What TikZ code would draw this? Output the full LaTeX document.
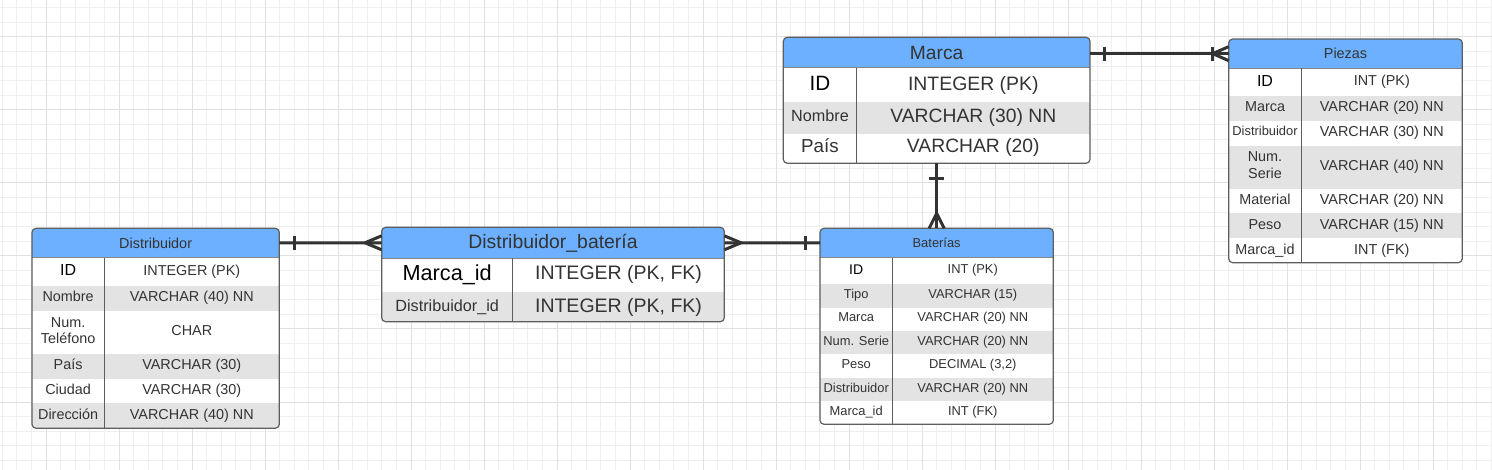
\documentclass[tikz,border=0pt]{standalone}
\usepackage{fontspec}
\setmainfont{Liberation Sans}
\usetikzlibrary{calc}
\definecolor{hdrblue}{RGB}{108,176,255}
\definecolor{rowgrey}{RGB}{227,227,227}
\definecolor{framecol}{RGB}{94,94,94}
\definecolor{txtcol}{RGB}{51,51,51}
\definecolor{conncol}{RGB}{51,51,51}
\definecolor{gridminor}{RGB}{239,239,239}
\definecolor{gridmajor}{RGB}{224,224,224}
\newcommand{\erfs}[2]{\fontsize{#1}{#2}\selectfont}
\tikzset{
  gminor/.style={draw=gridminor, line width=1pt},
  gmajor/.style={draw=gridmajor, line width=1pt},
  frame/.style={draw=framecol, line width=1.2pt, rounded corners=4pt, inner sep=0pt, outer sep=0pt},
  hdr/.style={inner sep=0pt, outer sep=0pt, text=txtcol, font=\erfs{#1}{#1}},
  cs/.style={inner sep=0pt, text=txtcol, font=\erfs{#1}{#1}, text height=\dimexpr #1pt*72/100\relax, text depth=0pt},
  ks/.style={cs=#1, text=black},
  ts/.style={inner sep=0pt, text=txtcol, align=center, font=\erfs{#1}{16.7}},
  hline/.style={draw=framecol!75, line width=1pt},
  dline/.style={draw=framecol, line width=1pt},
  conn/.style={draw=conncol, line width=3pt, line join=round},
}
\newcommand{\erbg}[6]{%
  \begin{scope}
    \clip[rounded corners=4pt] (#1,#2) rectangle (#3,#4);
    \fill[white] (#1,#2) rectangle (#3,#4);
    \fill[hdrblue] (#1,#2) rectangle (#3,#5);
    \foreach \ya/\yb in {#6} {\fill[rowgrey] (#1,\ya) rectangle (#3,\yb);}
  \end{scope}
  \draw[hline] (#1,#5) -- (#3,#5);
}
\begin{document}
\begin{tikzpicture}[x=1pt, y=-1pt]
\useasboundingbox (0,0) rectangle (1492,470);
\fill[white] (0,0) rectangle (1492,470);
% grid
\foreach \i in {0,...,102} {\draw[gminor] ({2.2+14.6*\i},0) -- ({2.2+14.6*\i},470);}
\foreach \i in {0,...,31} {\draw[gminor] (0,{7.8+14.6*\i}) -- (1492,{7.8+14.6*\i});}
\foreach \i in {0,...,19} {\draw[gmajor] ({46+73*\i},0) -- ({46+73*\i},470);}
\foreach \i in {0,...,5} {\draw[gmajor] (0,{37+73*\i}) -- (1492,{37+73*\i});}

% ---------------- Distribuidor ----------------
\erbg{32}{228.3}{279.3}{428.3}{257.7}{286/311, 354/379, 403/428.3}
\draw[dline] (104.3,257.7) -- (104.3,428.3);
\node[frame, minimum width=247.3pt, minimum height=200pt] (distr) at (155.65,328.3) {};
\node[hdr=14.4, minimum width=247.3pt, minimum height=29.4pt] (dH) at (155.65,243) {Distribuidor};
\node[ks=16] (d1k) at (68.15,269.3) {ID};
\node[cs=14.4] (d1v) at (191.8,270) {INTEGER (PK)};
\node[cs=14.4] (d2k) at (68.15,296) {Nombre};
\node[cs=14.4] (d2v) at (191.8,296) {VARCHAR (40) NN};
\node[ts=14.4] (d3k) at (68.15,330.7) {Num.\\Teléfono};
\node[cs=14.4] (d3v) at (191.8,330) {CHAR};
\node[cs=14.4] (d4k) at (68.15,364) {País};
\node[cs=14.4] (d4v) at (191.8,364) {VARCHAR (30)};
\node[cs=14.4] (d5k) at (68.15,389) {Ciudad};
\node[cs=14.4] (d5v) at (191.8,389) {VARCHAR (30)};
\node[cs=14.4] (d6k) at (68.15,414) {Dirección};
\node[cs=14.4] (d6v) at (191.8,414) {VARCHAR (40) NN};

% ---------------- Distribuidor_bateria ----------------
\erbg{381.7}{227.3}{724.3}{321.7}{258.3}{291.7/321.7}
\draw[dline] (512.7,258.3) -- (512.7,321.7);
\node[frame, minimum width=342.6pt, minimum height=94.4pt] (distbat) at (553,274.5) {};
\node[hdr=19.4, minimum width=342.6pt, minimum height=31pt] (dbH) at (553,242.8) {Distribuidor\_batería};
\node[ks=21.7] (db1k) at (447.2,272.3) {Marca\_id};
\node[cs=19.5] (db1v) at (618.5,272.3) {INTEGER (PK, FK)};
\node[cs=16.2] (db2k) at (447.2,305.3) {Distribuidor\_id};
\node[cs=19.5] (db2v) at (618.5,305) {INTEGER (PK, FK)};

% ---------------- Marca ----------------
\erbg{783.3}{37.3}{1090}{163.3}{67.7}{101.7/134}
\draw[dline] (856.7,67.7) -- (856.7,163.3);
\node[frame, minimum width=306.7pt, minimum height=126pt] (marca) at (936.65,100.3) {};
\node[hdr=19.2, minimum width=306.7pt, minimum height=30.4pt] (mH) at (936.65,52.5) {Marca};
\node[ks=20.7] (m1k) at (820,83.3) {ID};
\node[cs=19.4] (m1v) at (973.3,83.3) {INTEGER (PK)};
\node[cs=16.2] (m2k) at (820,116) {Nombre};
\node[cs=19.3] (m2v) at (973.3,116) {VARCHAR (30) NN};
\node[cs=18.8] (m3k) at (820,145.7) {País};
\node[cs=19.3] (m3v) at (973.3,145.7) {VARCHAR (20)};

% ---------------- Piezas ----------------
\erbg{1228.7}{39}{1462.3}{262.7}{68.3}{96/121, 145.7/189, 212.7/238.3}
\draw[dline] (1301.3,68.3) -- (1301.3,262.7);
\node[frame, minimum width=233.6pt, minimum height=223.7pt] (piezas) at (1345.5,150.85) {};
\node[hdr=14.4, minimum width=233.6pt, minimum height=29.3pt] (pH) at (1345.5,53.65) {Piezas};
\node[ks=16] (p1k) at (1265,80.7) {ID};
\node[cs=14.4] (p1v) at (1381.8,80.7) {INT (PK)};
\node[cs=14.4] (p2k) at (1265,106.7) {Marca};
\node[cs=14.4] (p2v) at (1381.8,106.7) {VARCHAR (20) NN};
\node[cs=12.9] (p3k) at (1265,131) {Distribuidor};
\node[cs=14.4] (p3v) at (1381.8,131) {VARCHAR (30) NN};
\node[ts=14.4] (p4k) at (1265,165) {Num.\\Serie};
\node[cs=14.4] (p4v) at (1381.8,165) {VARCHAR (40) NN};
\node[cs=14.4] (p5k) at (1265,199.3) {Material};
\node[cs=14.4] (p5v) at (1381.8,199.3) {VARCHAR (20) NN};
\node[cs=14.4] (p6k) at (1265,224.3) {Peso};
\node[cs=14.4] (p6v) at (1381.8,224.3) {VARCHAR (15) NN};
\node[cs=14.4] (p7k) at (1265,249) {Marca\_id};
\node[cs=14.4] (p7v) at (1381.8,249) {INT (FK)};

% ---------------- Baterias ----------------
\erbg{820}{228.3}{1053.3}{424.3}{257.7}{284/307.7, 331/354.3, 377.7/401}
\draw[dline] (892.3,257.7) -- (892.3,424.3);
\node[frame, minimum width=233.3pt, minimum height=196pt] (bater) at (936.65,326.3) {};
\node[hdr=12.9, minimum width=233.3pt, minimum height=29.4pt] (bH) at (936.65,243) {Baterías};
\node[ks=14] (b1k) at (856.2,269) {ID};
\node[cs=12.9] (b1v) at (972.8,269) {INT (PK)};
\node[cs=12.9] (b2k) at (856.2,294) {Tipo};
\node[cs=12.9] (b2v) at (972.8,294) {VARCHAR (15)};
\node[cs=12.9] (b3k) at (856.2,317.3) {Marca};
\node[cs=12.9] (b3v) at (972.8,317.3) {VARCHAR (20) NN};
\node[cs=12.9] (b4k) at (856.2,341) {Num. Serie};
\node[cs=12.9] (b4v) at (972.8,341) {VARCHAR (20) NN};
\node[cs=12.9] (b5k) at (856.2,364.3) {Peso};
\node[cs=12.9] (b5v) at (972.8,364.3) {DECIMAL (3,2)};
\node[cs=12.9] (b6k) at (856.2,387.7) {Distribuidor};
\node[cs=12.9] (b6v) at (972.8,387.7) {VARCHAR (20) NN};
\node[cs=12.9] (b7k) at (856.2,410.7) {Marca\_id};
\node[cs=12.9] (b7v) at (972.8,410.7) {INT (FK)};

% ---------------- Connectors ----------------
% Distribuidor -- Distribuidor_bateria
\draw[conn] (dH.east) -- (dbH.west);
\draw[conn] ($(dH.east)+(15,-7)$) -- ($(dH.east)+(15,7)$);
\draw[conn] ($(dbH.west)+(0,-7)$) -- ($(dbH.west)+(-16.7,0)$) -- ($(dbH.west)+(0,7)$);
% Distribuidor_bateria -- Baterias
\draw[conn] (dbH.east) -- (bH.west);
\draw[conn] ($(dbH.east)+(0,-7)$) -- ($(dbH.east)+(16.7,0)$) -- ($(dbH.east)+(0,7)$);
\draw[conn] ($(bH.west)+(-15,-7)$) -- ($(bH.west)+(-15,7)$);
% Marca -- Piezas
\draw[conn] (pH.west -| mH.east) -- (pH.west);
\draw[conn] ($(pH.west -| mH.east)+(14.3,-7)$) -- ($(pH.west -| mH.east)+(14.3,7)$);
\draw[conn] ($(pH.west)+(0,-7)$) -- ($(pH.west)+(-16,0)$) -- ($(pH.west)+(0,7)$);
\draw[conn] ($(pH.west)+(-16,-7)$) -- ($(pH.west)+(-16,7)$);
% Marca -- Baterias
\draw[conn] (marca.south) -- (bater.north);
\draw[conn] ($(marca.south)+(-7.5,15)$) -- ($(marca.south)+(7.5,15)$);
\draw[conn] ($(bater.north)+(-7.5,0)$) -- ($(bater.north)+(0,-15)$) -- ($(bater.north)+(7.5,0)$);
\end{tikzpicture}
\end{document}
